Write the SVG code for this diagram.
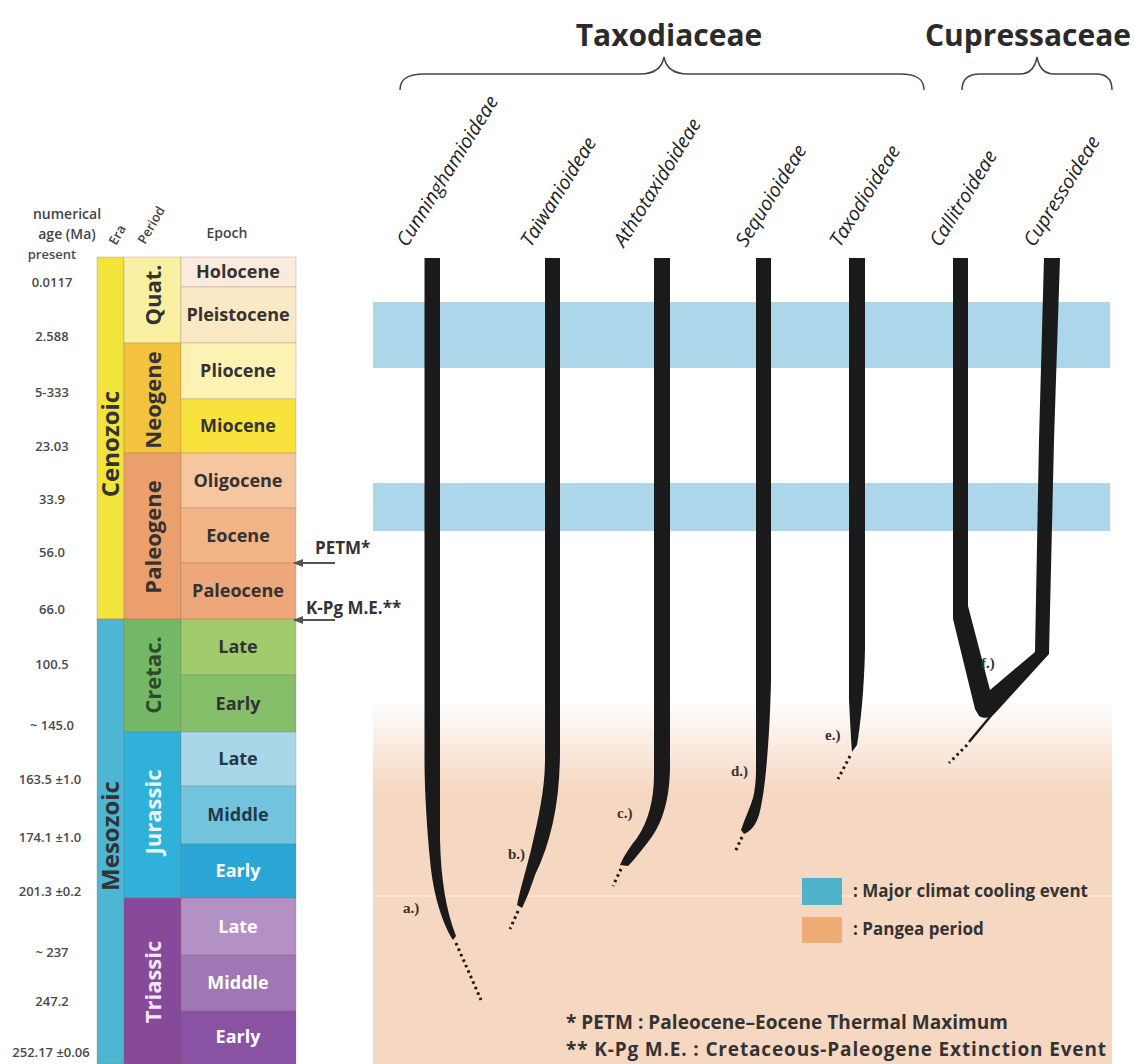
<svg xmlns="http://www.w3.org/2000/svg" width="1134" height="1064" viewBox="0 0 1134 1064">
<defs>
<style>
.t{font-family:"Open Sans","Liberation Sans",sans-serif;fill:#333}
.ep{font-size:18px;font-weight:700;text-anchor:middle}
.per{font-size:22px;font-weight:700;text-anchor:middle}
.era{font-size:24px;font-weight:700;text-anchor:middle}
.age{font-size:13px;font-weight:600;text-anchor:middle;fill:#4a4a4a}
.hdr{font-size:14px;font-weight:600;fill:#444}
.sub{font-size:19.5px;font-style:italic;fill:#222}
.fam{font-size:30px;font-weight:700;text-anchor:middle;fill:#2a2a2a}
.lbl{font-family:"Liberation Serif",serif;font-size:15px;font-weight:700;fill:#333}
.ann{font-size:17px;font-weight:700;fill:#333}
.leg{font-size:17px;font-weight:700;fill:#333}
.foot{font-size:19px;font-weight:700;fill:#333}
.w{fill:#fff}
.cell{stroke:#7a6a5a;stroke-opacity:0.25;stroke-width:1}
.br{fill:#1a1a1a}
.dots{fill:none;stroke:#1a1a1a;stroke-width:3;stroke-dasharray:2.5 3.5}
.brace{fill:none;stroke:#444;stroke-width:1.5}
.arr{stroke:#555;stroke-width:2;fill:none}
</style>
<linearGradient id="pg" x1="0" y1="700" x2="0" y2="790" gradientUnits="userSpaceOnUse">
<stop offset="0" stop-color="#f6d8c2" stop-opacity="0"/>
<stop offset="1" stop-color="#f6d8c2"/>
</linearGradient>
<marker id="ah" viewBox="0 0 10 10" refX="9" refY="5" markerWidth="5" markerHeight="5" orient="auto">
<path d="M0,1 L10,5 L0,9 z" fill="#555"/>
</marker>
</defs>
<rect width="1134" height="1064" fill="#fff"/>

<!-- backgrounds -->
<g id="backgrounds">
<rect x="373" y="700" width="739" height="364" fill="url(#pg)"/>
<line x1="373" y1="896" x2="1112" y2="896" stroke="#fbe8da" stroke-width="1.5"/>
<rect x="373" y="302" width="737" height="66" fill="#acd6ea"/>
<rect x="373" y="483" width="737" height="48" fill="#acd6ea"/>
</g>

<!-- timescale -->
<g id="timescale">
<g id="eras">
<rect class="cell" x="97" y="257" width="27" height="362" fill="#f2e43c"/>
<rect class="cell" x="97" y="619" width="27" height="445" fill="#4db6d3"/>
<text class="t era" transform="translate(110.5,444) rotate(-90)" y="8.5">Cenozoic</text>
<text class="t era" transform="translate(110.5,836) rotate(-90)" y="8.5">Mesozoic</text>
</g>
<g id="periods">
<rect class="cell" x="124" y="257" width="57" height="86" fill="#f9f0a4"/>
<rect class="cell" x="124" y="343" width="57" height="110" fill="#f3c33e"/>
<rect class="cell" x="124" y="453" width="57" height="166" fill="#eb9f6c"/>
<rect class="cell" x="124" y="619" width="57" height="113" fill="#74b765"/>
<rect class="cell" x="124" y="732" width="57" height="166" fill="#30b1da"/>
<rect class="cell" x="124" y="898" width="57" height="166" fill="#874a9b"/>
<text class="t per" transform="translate(152.5,295) rotate(-90)" y="8">Quat.</text>
<text class="t per" transform="translate(152.5,400) rotate(-90)" y="8">Neogene</text>
<text class="t per" transform="translate(152.5,537) rotate(-90)" y="8">Paleogene</text>
<text class="t per" transform="translate(152.5,675) rotate(-90)" y="8" style="fill:#2c4a2a">Cretac.</text>
<text class="t per w" transform="translate(152.5,812) rotate(-90)" y="8" style="fill:#eaf6fb">Jurassic</text>
<text class="t per w" transform="translate(152.5,982) rotate(-90)" y="8" style="fill:#f1e6f5">Triassic</text>
</g>
<g id="epochs">
<rect class="cell" x="181" y="257" width="115" height="30" fill="#fbebdc"/>
<rect class="cell" x="181" y="287" width="115" height="56" fill="#fbe8c4"/>
<rect class="cell" x="181" y="343" width="115" height="56" fill="#fcf2b4"/>
<rect class="cell" x="181" y="399" width="115" height="54" fill="#f7e33c"/>
<rect class="cell" x="181" y="453" width="115" height="55" fill="#f6c6a0"/>
<rect class="cell" x="181" y="508" width="115" height="55" fill="#f1b487"/>
<rect class="cell" x="181" y="563" width="115" height="56" fill="#eea77a"/>
<rect class="cell" x="181" y="619" width="115" height="56" fill="#a1cb6c"/>
<rect class="cell" x="181" y="675" width="115" height="57" fill="#86bf6a"/>
<rect class="cell" x="181" y="732" width="115" height="54" fill="#a9d7e8"/>
<rect class="cell" x="181" y="786" width="115" height="58" fill="#72c4dc"/>
<rect class="cell" x="181" y="844" width="115" height="54" fill="#2aa6d7"/>
<rect class="cell" x="181" y="898" width="115" height="57" fill="#b391c5"/>
<rect class="cell" x="181" y="955" width="115" height="56" fill="#a176b5"/>
<rect class="cell" x="181" y="1011" width="115" height="53" fill="#8a52a2"/>
<text class="t ep" x="238" y="278">Holocene</text>
<text class="t ep" x="238" y="321">Pleistocene</text>
<text class="t ep" x="238" y="377">Pliocene</text>
<text class="t ep" x="238" y="432">Miocene</text>
<text class="t ep" x="238" y="487">Oligocene</text>
<text class="t ep" x="238" y="542">Eocene</text>
<text class="t ep" x="238" y="597">Paleocene</text>
<text class="t ep" x="238" y="653">Late</text>
<text class="t ep" x="238" y="710">Early</text>
<text class="t ep" x="238" y="765" style="fill:#23384a">Late</text>
<text class="t ep" x="238" y="821" style="fill:#23384a">Middle</text>
<text class="t ep w" x="238" y="877">Early</text>
<text class="t ep w" x="238" y="933">Late</text>
<text class="t ep w" x="238" y="989">Middle</text>
<text class="t ep w" x="238" y="1043">Early</text>
</g>
<g id="headers">
<text class="t hdr" x="67" y="219" text-anchor="middle">numerical</text>
<text class="t hdr" x="67" y="239" text-anchor="middle">age (Ma)</text>
<text class="t hdr" transform="translate(116,246) rotate(-60)" style="font-size:13px">Era</text>
<text class="t hdr" transform="translate(145,245) rotate(-60)" style="font-size:13px">Period</text>
<text class="t hdr" x="227" y="238" text-anchor="middle">Epoch</text>
</g>
<g id="ages">
<text class="t age" x="52" y="259">present</text>
<text class="t age" x="52" y="287">0.0117</text>
<text class="t age" x="52" y="341">2.588</text>
<text class="t age" x="52" y="397">5-333</text>
<text class="t age" x="52" y="451">23.03</text>
<text class="t age" x="52" y="504">33.9</text>
<text class="t age" x="52" y="557">56.0</text>
<text class="t age" x="52" y="614">66.0</text>
<text class="t age" x="52" y="669">100.5</text>
<text class="t age" x="52" y="730">~ 145.0</text>
<text class="t age" x="50" y="784">163.5 ±1.0</text>
<text class="t age" x="50" y="842">174.1 ±1.0</text>
<text class="t age" x="50" y="896">201.3 ±0.2</text>
<text class="t age" x="52" y="957">~ 237</text>
<text class="t age" x="52" y="1006">247.2</text>
<text class="t age" x="51" y="1057">252.17 ±0.06</text>
</g>
</g>

<!-- event arrows -->
<g id="events">
<line class="arr" x1="335" y1="563" x2="294" y2="563" marker-end="url(#ah)"/>
<line class="arr" x1="335" y1="620" x2="294" y2="620" marker-end="url(#ah)"/>
<text class="t ann" x="315" y="554">PETM*</text>
<text class="t ann" x="306" y="614">K-Pg M.E.**</text>
</g>

<!-- families -->
<g id="families">
<text class="t fam" x="669" y="46">Taxodiaceae</text>
<text class="t fam" x="1028" y="46">Cupressaceae</text>
<path class="brace" d="M400,90 C400,80 406,74 425,74 L640,74 C655,74 662,68 664,57 C666,68 673,74 688,74 L900,74 C918,74 924,80 924,90"/>
<path class="brace" d="M962,90 C962,80 967,74 980,74 L1020,74 C1030,74 1035,68 1037,57 C1039,68 1044,74 1054,74 L1096,74 C1108,74 1112,80 1112,90"/>
</g>

<!-- lineages -->
<g id="connectors">
<g id="lin-a">
<path class="br" d="M424.5,258 H440 V840 C441,880 446,910 456,936 L453,940 C443,925 433,895 430,860 C427,830 424.5,790 424.5,760 Z"/>
<path class="dots" d="M456,943 L481,1000"/>
</g>
<g id="lin-b">
<path class="br" d="M545,258 H560 V750 C560,800 552,840 535,875 C530,890 526,900 522,908 L517,905 C520,890 526,870 531,850 C538,820 545,790 545,760 Z"/>
<path class="dots" d="M518,911 L510,929"/>
</g>
<g id="lin-c">
<path class="br" d="M654,258 H670 V765 C670,800 662,825 648,842 C640,852 634,860 628,866 L620,865 C624,855 630,847 637,838 C648,822 654,800 654,775 Z"/>
<path class="dots" d="M621,869 L613,886"/>
</g>
<g id="lin-d">
<path class="br" d="M756,258 H771 V680 C770,730 766,790 759,815 C756,825 750,832 744,834 L741,830 C745,818 750,808 753,798 C755,790 756,780 756,770 Z"/>
<path class="dots" d="M742,837 L735,852"/>
</g>
<g id="lin-e">
<path class="br" d="M849,258 H865 V650 C864,690 861,720 857,745 L852,752 C851,740 850,720 849,700 Z"/>
<path class="dots" d="M850,756 L838,779"/>
</g>
<g id="lin-f">
<path class="br" d="M953,258 H968 V606 L990,690 L1035,652 L1039,440 L1044,258 H1060 L1054,440 L1049,654 L998,710 C992,717 985,720 979,716 L975,709 L953,619 Z"/>
<path d="M994,712 L969,742" stroke="#1a1a1a" stroke-width="2.5" fill="none"/>
<path class="dots" d="M967,745 L949,763"/>
</g>
</g>

<!-- lineage labels -->
<g id="labels">
<text class="t sub" transform="translate(407,248) rotate(-58)">Cunninghamioideae</text>
<text class="t sub" transform="translate(531,248) rotate(-58)">Taiwanioideae</text>
<text class="t sub" transform="translate(624,248) rotate(-58)">Athtotaxidoideae</text>
<text class="t sub" transform="translate(746,248) rotate(-58)">Sequoioideae</text>
<text class="t sub" transform="translate(840,248) rotate(-58)">Taxodioideae</text>
<text class="t sub" transform="translate(940,248) rotate(-58)">Callitroideae</text>
<text class="t sub" transform="translate(1034,248) rotate(-58)">Cupressoideae</text>
<text class="lbl" x="403" y="913">a.)</text>
<text class="lbl" x="508" y="859">b.)</text>
<text class="lbl" x="617" y="818">c.)</text>
<text class="lbl" x="731" y="776">d.)</text>
<text class="lbl" x="825" y="740">e.)</text>
<text class="lbl" x="981" y="668">f.)</text>
</g>

<!-- legend -->
<g id="legend">
<rect x="802" y="878" width="40" height="27" fill="#4fb3cc"/>
<rect x="802" y="917" width="40" height="26" fill="#efac74"/>
<text class="t leg" x="853" y="897">: Major climat cooling event</text>
<text class="t leg" x="853" y="935">: Pangea period</text>
<text class="t foot" x="566" y="1029" textLength="442" lengthAdjust="spacing">* PETM : Paleocene–Eocene Thermal Maximum</text>
<text class="t foot" x="566" y="1056" textLength="540" lengthAdjust="spacing">** K-Pg M.E. : Cretaceous-Paleogene Extinction Event</text>
</g>
</svg>
